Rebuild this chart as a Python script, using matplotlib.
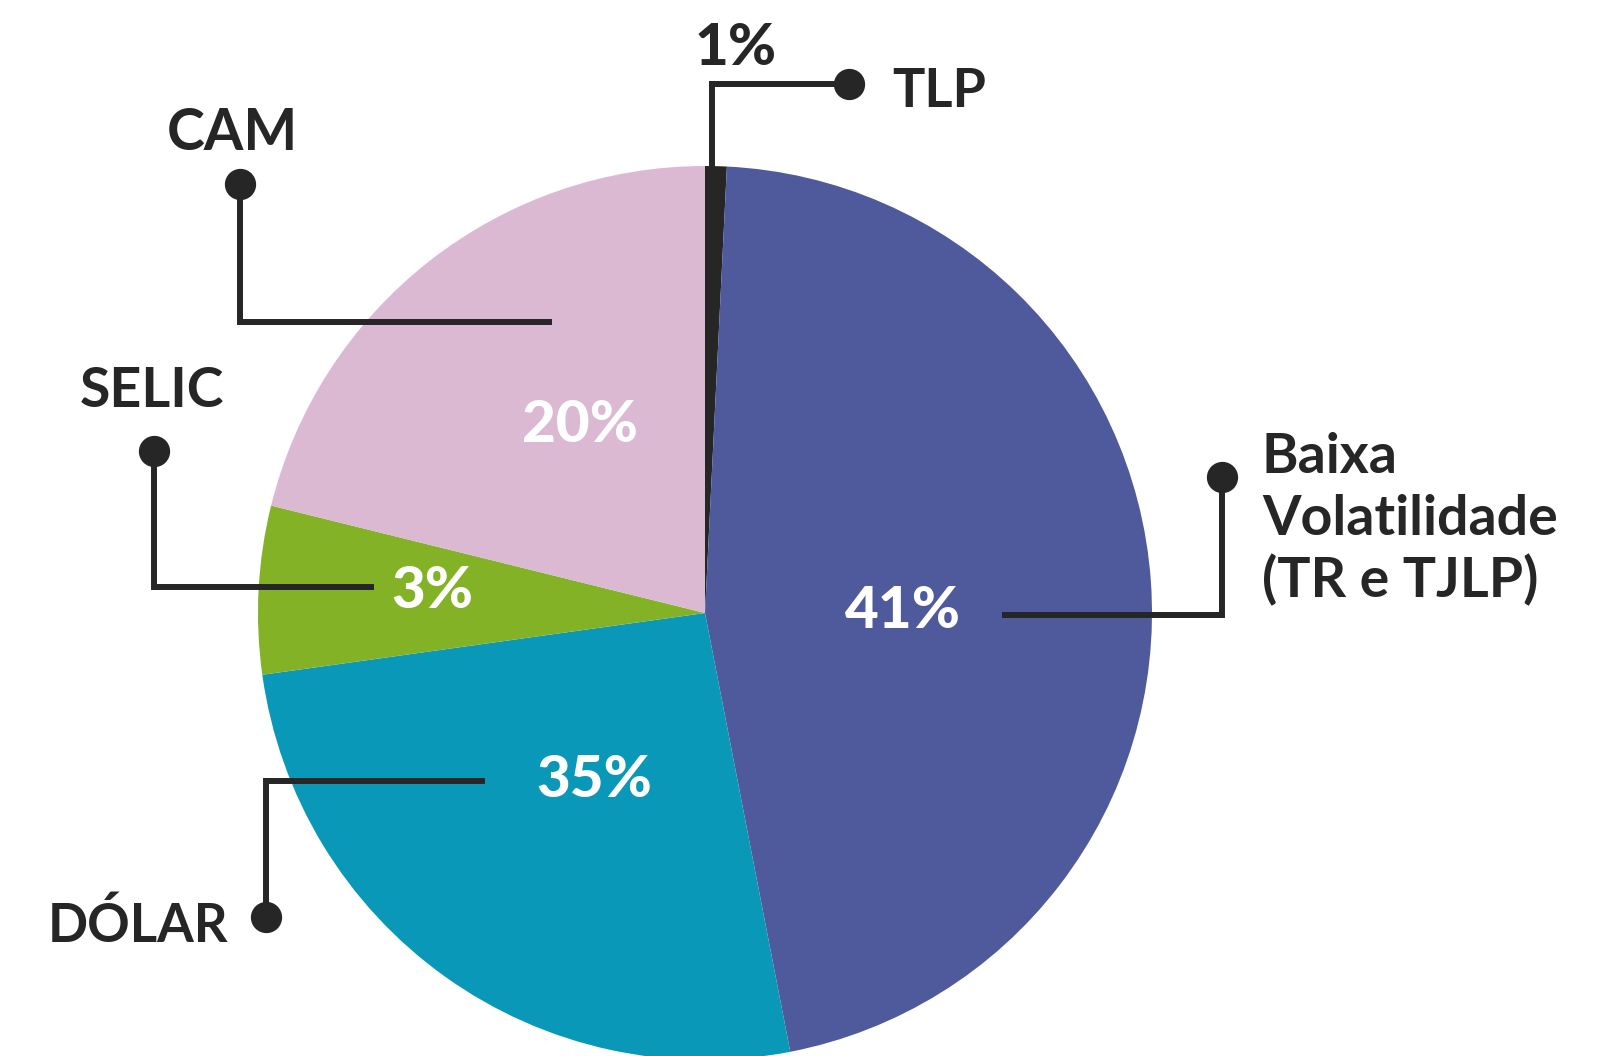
import matplotlib
matplotlib.use("Agg")
import matplotlib.pyplot as plt

# slice shares as drawn (clockwise from 12 o'clock) and the printed labels
categories = ["TLP", "Baixa\nVolatilidade\n(TR e TJLP)", "DÓLAR", "SELIC", "CAM"]
shares = [0.78, 46.17, 25.85, 6.07, 21.14]
pct_labels = ["1%", "41%", "35%", "3%", "20%"]
colors = ["#262626", "#4f5a9c", "#0a98b9", "#83b227", "#dbb9d3"]

INK = "#262626"
W, H = 1619, 1056


def up(y):
    # layout positions are measured from the top edge
    return H - y


fig = plt.figure(figsize=(W / 100, H / 100), dpi=100)
ax = fig.add_axes([0, 0, 1, 1])

ax.pie(
    shares,
    colors=colors,
    startangle=90,
    counterclock=False,
    center=(705, up(613)),
    radius=447,
    wedgeprops=dict(linewidth=0),
)
ax.set_xlim(0, W)
ax.set_ylim(0, H)
ax.set_aspect("equal")
ax.axis("off")

# percent labels (x centre, baseline y, colour)
pct_pos = [(736, 65, INK), (903, 628, "white"), (594, 797, "white"),
           (432, 608, "white"), (580, 442, "white")]
for txt, (x, y, c) in zip(pct_labels, pct_pos):
    ax.text(x, up(y), txt, ha="center", va="baseline", color=c,
            fontsize=42, fontweight="black", family="Lato")

# leader lines: dot first, then elbow, then end inside the slice
leaders = [
    [(849, 84), (712, 84), (712, 172)],
    [(1222, 477), (1222, 615), (1002, 615)],
    [(266, 917), (266, 781), (485, 781)],
    [(154, 451), (154, 587), (374, 587)],
    [(240, 184), (240, 322), (552, 322)],
]
for pts in leaders:
    xs = [p[0] for p in pts]
    ys = [up(p[1]) for p in pts]
    ax.plot(xs, ys, color=INK, lw=4.3, solid_joinstyle="miter",
            solid_capstyle="butt")
    ax.plot(xs[0], ys[0], "o", color=INK, ms=21.5)

# category names
ax.text(892, up(107), "TLP", ha="left", va="baseline", color=INK,
        fontsize=39, fontweight="bold", family="Lato")
ax.text(232, up(150), "CAM", ha="center", va="baseline", color=INK,
        fontsize=41, fontweight="bold", family="Lato")
ax.text(152, up(407), "SELIC", ha="center", va="baseline", color=INK,
        fontsize=40, fontweight="bold", family="Lato")
ax.text(48, up(942), "DÓLAR", ha="left", va="baseline", color=INK,
        fontsize=38, fontweight="bold", family="Lato")
for line, base in zip(categories[1].split("\n"), [473, 535, 597]):
    ax.text(1262, up(base), line, ha="left", va="baseline", color=INK,
            fontsize=40, fontweight="bold", family="Lato")

fig.savefig("out.png", dpi=100)
